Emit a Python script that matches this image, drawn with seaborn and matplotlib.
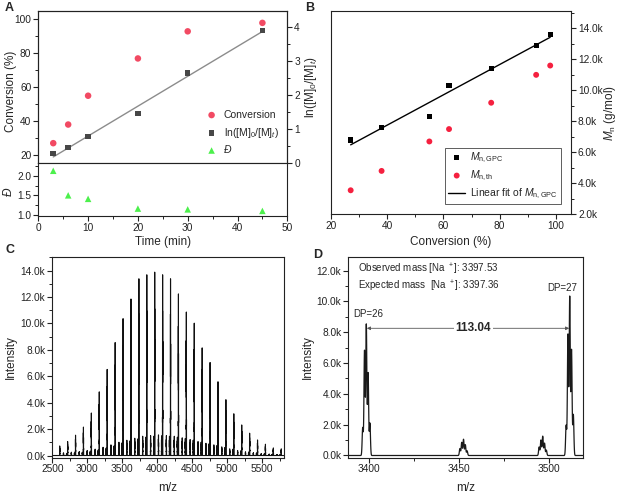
import numpy as np
import pandas as pd
import matplotlib
matplotlib.use("Agg")
import matplotlib.pyplot as plt
import seaborn as sns
from matplotlib.ticker import MultipleLocator, FuncFormatter

sns.set_style("ticks")
plt.rcParams['font.family'] = ['Liberation Sans', 'DejaVu Sans']
plt.rcParams['mathtext.fontset'] = 'custom'
plt.rcParams['mathtext.rm'] = 'Liberation Sans'
plt.rcParams['mathtext.it'] = 'Liberation Sans:italic'
plt.rcParams['mathtext.bf'] = 'Liberation Sans:bold'
plt.rcParams['path.simplify'] = False
plt.rcParams['axes.edgecolor'] = '#222222'
plt.rcParams['axes.linewidth'] = 0.8
for ax_ in ('xtick', 'ytick'):
    plt.rcParams[f'{ax_}.direction'] = 'out'
    plt.rcParams[f'{ax_}.major.size'] = 3.5
    plt.rcParams[f'{ax_}.minor.size'] = 2
    plt.rcParams[f'{ax_}.major.width'] = 0.8
    plt.rcParams[f'{ax_}.minor.width'] = 0.7
    plt.rcParams[f'{ax_}.labelsize'] = 7.3
    plt.rcParams[f'{ax_}.color'] = '#222222'
    plt.rcParams[f'{ax_}.major.pad'] = 1.5
plt.rcParams['axes.labelsize'] = 8.5

# ---------------- data: panel A ----------------
time_min = [3, 6, 10, 20, 30, 45]
conversion_pct = [27, 38, 55, 77, 93, 98]
ln_m0_mt = [0.28, 0.45, 0.78, 1.45, 2.64, 3.90]
dispersity = [2.13, 1.50, 1.41, 1.16, 1.14, 1.10]

# ---------------- data: panel B ----------------
conv_b = [27, 38, 55, 62, 77, 93, 98]
mn_gpc = [6800, 7600, 8300, 10300, 11400, 12900, 13600]
mn_th = [3550, 4800, 6700, 7500, 9200, 11000, 11600]

# ---------------- data: panel C (MALDI peaks) ----------------
c_main_mz = [2606, 2719, 2832, 2945, 3058, 3171, 3284, 3398, 3511, 3624, 3737, 3850,
             3963, 4076, 4189, 4302, 4415, 4528, 4641, 4754, 4867, 4980, 5093, 5206,
             5319, 5432, 5545, 5658, 5771]
c_main_int = [720, 1050, 1530, 2140, 3200, 4790, 6480, 8500, 10300, 11780, 13300, 13600,
              13800, 13600, 13300, 12160, 10800, 9960, 8100, 7000, 5550, 4200, 3140, 2300,
              1680, 1170, 850, 570, 500]
c_sec54_int = [200, 250, 300, 380, 480, 620, 800, 1000, 1150, 1300, 1450, 1500, 1550, 1500,
               1450, 1330, 1200, 1050, 920, 800, 650, 500, 380, 280, 210, 150, 110, 80, 60]
c_sec98_int = [150, 200, 260, 330, 420, 560, 720, 950, 1100, 1250, 1380, 1450, 1480, 1450,
               1380, 1280, 1150, 1000, 880, 750, 600, 470, 350, 260, 190, 140, 100, 70, 50]
c_sec_offsets = [54, 98]
iso_offsets = [-2, -1, 0, 1, 2]
iso_rel = [0.21, 0.80, 1.00, 0.63, 0.25]

# ---------------- data: panel D (zoomed isotope clusters) ----------------
d_iso_mz = [3396.5, 3397.5, 3398.5, 3399.5, 3400.5,
            3450.5, 3451.5, 3452.5, 3453.5, 3454.5,
            3494.5, 3495.5, 3496.5, 3497.5, 3498.5,
            3509.5, 3510.5, 3511.5, 3512.5, 3513.5]
d_iso_int = [1800, 6800, 8500, 5350, 2100,
             450, 850, 1050, 700, 300,
             550, 1000, 1250, 800, 350,
             1950, 7850, 10300, 6850, 2650]
dp26_mz, dp27_mz = 3398.5, 3511.5


def profile(grid, centers, heights, sigma):
    y = np.zeros_like(grid)
    for c, h in zip(centers, heights):
        m = np.abs(grid - c) < 6 * sigma
        y[m] += h * np.exp(-0.5 * ((grid[m] - c) / sigma) ** 2)
    return y


W, H = 619, 493
fig = plt.figure(figsize=(W / 100, H / 100), dpi=100)


def rect(x0, x1, y0, y1):
    return [x0 / W, 1 - y1 / H, (x1 - x0) / W, (y1 - y0) / H]


kfmt = FuncFormatter(lambda v, p: f"{v/1000:.1f}k")

# ================= Panel A =================
axA = fig.add_axes(rect(38.3, 287.3, 11, 163))
axA_low = fig.add_axes(rect(38.3, 287.3, 163, 216))
axA2 = axA.twinx()

sns.scatterplot(x=time_min, y=conversion_pct, ax=axA, color='#f24a63', marker='o', s=22,
                edgecolor='none', label='Conversion', legend=False)
sns.regplot(x=time_min, y=ln_m0_mt, ax=axA2, scatter=False, ci=None, truncate=True,
            line_kws=dict(color='#8c8c8c', lw=1.0))
sns.scatterplot(x=time_min, y=ln_m0_mt, ax=axA2, color='#474747', marker='s', s=16,
                edgecolor='none', label=r'ln([M]$_0$/[M]$_t$)', legend=False, zorder=3)
sns.scatterplot(x=time_min, y=dispersity, ax=axA_low, color='#4cf04c', marker='^', s=22,
                edgecolor='none', label='Đ', legend=False)

for a in (axA, axA2, axA_low):
    a.set_xlim(0, 50)
axA.set_ylim(15.3, 105)
axA2.set_ylim(0, 4.47)
axA_low.set_ylim(0.97, 2.33)
axA.yaxis.set_major_locator(MultipleLocator(20))
axA.yaxis.set_minor_locator(MultipleLocator(10))
axA2.yaxis.set_major_locator(MultipleLocator(1))
axA2.yaxis.set_minor_locator(MultipleLocator(0.5))
axA.tick_params(axis='x', which='both', bottom=False, labelbottom=False)
axA2.tick_params(axis='x', which='both', bottom=False, labelbottom=False)
axA_low.xaxis.set_major_locator(MultipleLocator(10))
axA_low.xaxis.set_minor_locator(MultipleLocator(5))
axA_low.yaxis.set_major_locator(MultipleLocator(0.5))
axA_low.yaxis.set_minor_locator(MultipleLocator(0.25))
axA_low.yaxis.set_major_formatter(FuncFormatter(lambda v, p: f"{v:.1f}"))
for s in axA.spines.values():
    s.set_visible(True)
for s in axA_low.spines.values():
    s.set_visible(True)
axA.spines['bottom'].set_color('#888888')
axA_low.spines['top'].set_color('#888888')

axA.set_ylabel('Conversion (%)')
axA.yaxis.set_label_coords(-0.085, 0.47)
axA2.set_ylabel(r'ln([M]$_0$/[M]$_t$)')
axA2.yaxis.set_label_coords(1.062, 0.5)
axA_low.set_ylabel('Đ', fontstyle='italic')
axA_low.yaxis.set_label_coords(-0.094, 0.46)
axA_low.set_xlabel('Time (min)')
axA_low.xaxis.set_label_coords(0.5, -0.37)

handles, labels = [], []
for a in (axA, axA2, axA_low):
    h, l = a.get_legend_handles_labels()
    handles += h
    labels += l
    if a.get_legend() is not None:
        a.get_legend().remove()
legA = axA2.legend(handles, labels, loc='upper left', bbox_to_anchor=(0.675, 0.35),
                   frameon=False, fontsize=7.5, borderpad=0, borderaxespad=0,
                   handlelength=1.0, handletextpad=0.65, labelspacing=0.55)
legA.get_texts()[2].set_fontstyle('italic')
fig.text(5 / W, 1 - 8 / H, 'A', fontsize=9, fontweight='bold', va='center', ha='left')

# ================= Panel B =================
axB = fig.add_axes(rect(331, 571, 11, 214.3))
sns.regplot(x=conv_b, y=mn_gpc, ax=axB, scatter=False, ci=None, truncate=True,
            line_kws=dict(color='black', lw=1.0), label=r'Linear fit of $M_{\mathrm{n,GPC}}$')
sns.scatterplot(x=conv_b, y=mn_gpc, ax=axB, color='black', marker='s', s=14,
                edgecolor='none', label=r'$M_{\mathrm{n,GPC}}$', legend=False, zorder=3)
sns.scatterplot(x=conv_b, y=mn_th, ax=axB, color='#f5203f', marker='o', s=18,
                edgecolor='none', label=r'$M_{\mathrm{n,th}}$', legend=False, zorder=3)
axB.set_xlim(20, 105.4)
axB.set_ylim(2000, 15120)
axB.xaxis.set_major_locator(MultipleLocator(20))
axB.xaxis.set_minor_locator(MultipleLocator(10))
axB.yaxis.tick_right()
axB.yaxis.set_label_position('right')
axB.yaxis.set_major_locator(MultipleLocator(2000))
axB.yaxis.set_minor_locator(MultipleLocator(1000))
axB.yaxis.set_major_formatter(kfmt)
for s in axB.spines.values():
    s.set_visible(True)
axB.set_ylabel(r'$M_{\mathrm{n}}$ (g/mol)')
axB.yaxis.set_label_coords(1.128, 0.5)
axB.set_xlabel('Conversion (%)')
axB.xaxis.set_label_coords(0.5, -0.105)
h, l = axB.get_legend_handles_labels()
order = [l.index(r'$M_{\mathrm{n,GPC}}$'), l.index(r'$M_{\mathrm{n,th}}$'),
         l.index(r'Linear fit of $M_{\mathrm{n,GPC}}$')]
if axB.get_legend() is not None:
    axB.get_legend().remove()
legB = axB.legend([h[i] for i in order], [l[i] for i in order], loc='lower right',
                  bbox_to_anchor=(0.958, 0.05), fontsize=7.5, frameon=True, fancybox=False,
                  edgecolor='#444444', framealpha=1, borderpad=0.3, borderaxespad=0,
                  handlelength=1.6, handletextpad=0.5, labelspacing=0.35)
legB.get_frame().set_linewidth(0.6)
fig.text(305 / W, 1 - 8 / H, 'B', fontsize=9, fontweight='bold', va='center', ha='left')

# ================= Panel C =================
axC = fig.add_axes(rect(52.3, 284, 257.3, 457.5))
gridC = np.arange(2500, 5810, 0.25)
cent, hts = [], []
for mz, hm, h54, h98 in zip(c_main_mz, c_main_int, c_sec54_int, c_sec98_int):
    for series_h, off in ((hm, 0), (h54, c_sec_offsets[0]), (h98, c_sec_offsets[1])):
        for io, ir in zip(iso_offsets, iso_rel):
            cent.append(mz + off + io)
            hts.append(series_h * ir)
yC = profile(gridC, cent, hts, 0.3)
dfC = pd.DataFrame({'mz': gridC, 'I': yC})
sns.lineplot(data=dfC, x='mz', y='I', ax=axC, color='#111111', lw=0.8,
             estimator=None, sort=False)
axC.set_xlim(2500, 5810)
axC.set_ylim(-150, 15000)
axC.xaxis.set_major_locator(MultipleLocator(500))
axC.xaxis.set_minor_locator(MultipleLocator(250))
axC.yaxis.set_major_locator(MultipleLocator(2000))
axC.yaxis.set_minor_locator(MultipleLocator(1000))
axC.yaxis.set_major_formatter(kfmt)
for s in axC.spines.values():
    s.set_visible(True)
axC.set_ylabel('Intensity')
axC.yaxis.set_label_coords(-0.152, 0.5)
axC.set_xlabel('m/z')
axC.xaxis.set_label_coords(0.5, -0.12)
fig.text(5 / W, 1 - 250 / H, 'C', fontsize=9, fontweight='bold', va='center', ha='left')

# ================= Panel D =================
axD = fig.add_axes(rect(348.3, 582.7, 257.3, 457.5))
gridD = np.arange(3388.5, 3518.7, 0.02)
yD = profile(gridD, d_iso_mz, d_iso_int, 0.3)
dfD = pd.DataFrame({'mz': gridD, 'I': yD})
sns.lineplot(data=dfD, x='mz', y='I', ax=axD, color='#1a1a1a', lw=0.9,
             estimator=None, sort=False)
axD.set_xlim(3388.5, 3518.7)
axD.set_ylim(-130, 12870)
axD.xaxis.set_major_locator(MultipleLocator(50))
axD.xaxis.set_minor_locator(MultipleLocator(25))
axD.yaxis.set_major_locator(MultipleLocator(2000))
axD.yaxis.set_minor_locator(MultipleLocator(1000))
axD.yaxis.set_major_formatter(kfmt)
for s in axD.spines.values():
    s.set_visible(True)
axD.set_ylabel('Intensity')
axD.yaxis.set_label_coords(-0.146, 0.5)
axD.set_xlabel('m/z')
axD.xaxis.set_label_coords(0.5, -0.12)
axD.text(0.041, 0.94, r'Observed mass [Na $^+$]: 3397.53', transform=axD.transAxes,
         fontsize=7, va='center', ha='left')
axD.text(0.041, 0.853, r'Expected mass  [Na $^+$]: 3397.36', transform=axD.transAxes,
         fontsize=7, va='center', ha='left')
axD.text(0.086, 0.715, 'DP=26', transform=axD.transAxes, fontsize=7, va='center', ha='center')
axD.text(0.914, 0.845, 'DP=27', transform=axD.transAxes, fontsize=7, va='center', ha='center')
arrow_y = 8260
axD.annotate('', xy=(dp26_mz + 0.3, arrow_y), xytext=(dp27_mz - 0.3, arrow_y),
             arrowprops=dict(arrowstyle='<|-|>', color='#555555', lw=0.6, mutation_scale=5,
                             shrinkA=0, shrinkB=0))
axD.text(3458, arrow_y, '113.04', fontsize=8.5, fontweight='bold', ha='center', va='center',
         bbox=dict(facecolor='white', edgecolor='none', pad=1.0))
fig.text(313 / W, 1 - 255 / H, 'D', fontsize=9, fontweight='bold', va='center', ha='left')

fig.savefig('out.png', dpi=100)
